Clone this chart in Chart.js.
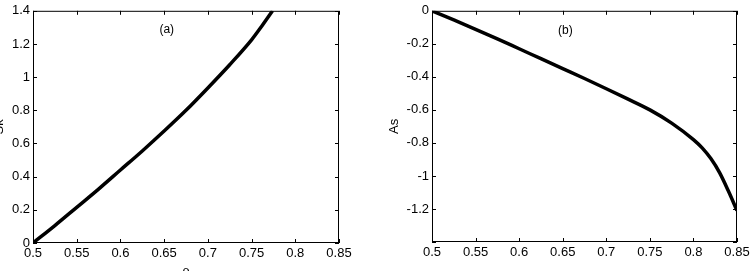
<!DOCTYPE html>
<html>
<head>
<meta charset="utf-8">
<script src="https://cdn.jsdelivr.net/npm/chart.js@4.4.1/dist/chart.umd.min.js"></script>
<style>
  html, body { margin: 0; padding: 0; background: #fff; overflow: hidden; }
  body { width: 753px; height: 271px; position: relative; }
  .box { position: absolute; top: 0; }
  #boxA { left: -8px; width: 390px; height: 290px; }
  #boxB { left: 376px; width: 377px; height: 290px; }
</style>
</head>
<body>
<div class="box" id="boxA"><canvas id="chartA"></canvas></div>
<div class="box" id="boxB"><canvas id="chartB"></canvas></div>
<script>
// panel (a): Sk vs rho
let rhoA = [0.5, 0.525, 0.55, 0.575, 0.6, 0.625, 0.65, 0.675, 0.7, 0.725, 0.75, 0.762, 0.774];
let skValues = [0, 0.105, 0.215, 0.325, 0.44, 0.555, 0.675, 0.80, 0.935, 1.075, 1.225, 1.31, 1.4];

// panel (b): As vs rho
let rhoB = [0.5, 0.525, 0.55, 0.575, 0.6, 0.625, 0.65, 0.675, 0.7, 0.725, 0.75, 0.775, 0.8, 0.81, 0.82, 0.83, 0.84, 0.85];
let asValues = [0, -0.055, -0.112, -0.17, -0.23, -0.29, -0.35, -0.41, -0.472, -0.535, -0.6, -0.68, -0.78, -0.83, -0.895, -0.98, -1.09, -1.21];

let xTicks = [0.5, 0.55, 0.6, 0.65, 0.7, 0.75, 0.8, 0.85];
let yTicksA = [0, 0.2, 0.4, 0.6, 0.8, 1, 1.2, 1.4];
let yTicksB = [0, -0.2, -0.4, -0.6, -0.8, -1, -1.2, -1.4];

const font = { family: "'Liberation Sans', Arial, sans-serif", size: 13 };

function fmt(v) {
    return parseFloat(Number(v).toFixed(2)).toString();
}

// MATLAB-style box with inward tick marks
const boxPlugin = {
    id: "boxTicks",
    afterDraw(chart) {
        let ctx = chart.ctx;
        let a = chart.chartArea;
        let xs = chart.scales.x, ys = chart.scales.y;
        ctx.save();
        ctx.strokeStyle = "#000";
        ctx.lineWidth = 1;
        ctx.strokeRect(a.left + 0.5, a.top + 0.5, a.right - a.left - 1, a.bottom - a.top - 1);
        ctx.beginPath();
        xs.ticks.forEach(t => {
            let px = Math.round(xs.getPixelForValue(t.value)) + 0.5;
            ctx.moveTo(px, a.bottom); ctx.lineTo(px, a.bottom - 4);
            ctx.moveTo(px, a.top); ctx.lineTo(px, a.top + 4);
        });
        ys.ticks.forEach(t => {
            let py = Math.round(ys.getPixelForValue(t.value)) + 0.5;
            ctx.moveTo(a.left, py); ctx.lineTo(a.left + 4, py);
            ctx.moveTo(a.right, py); ctx.lineTo(a.right - 4, py);
        });
        ctx.stroke();
        // panel tag
        let tag = chart.options.plugins.boxTicks;
        ctx.fillStyle = "#000";
        ctx.font = "12px 'Liberation Sans', Arial, sans-serif";
        ctx.textAlign = "center";
        ctx.textBaseline = "middle";
        ctx.fillText(tag.text, xs.getPixelForValue(tag.x), ys.getPixelForValue(tag.y));
        ctx.restore();
    }
};

function makeChart(id, xs, ys, yTicks, cfg) {
    let ctx = document.getElementById(id).getContext("2d");
    return new Chart(ctx, {
        type: "line",
        data: {
            datasets: [{
                data: xs.map((x, i) => ({ x: x, y: ys[i] })),
                borderColor: "#000",
                borderWidth: 3.5,
                pointRadius: 0,
                cubicInterpolationMode: "monotone",
                fill: false
            }]
        },
        options: {
            responsive: true,
            maintainAspectRatio: false,
            animation: false,
            layout: { padding: cfg.padding },
            scales: {
                x: {
                    type: "linear",
                    min: 0.5, max: 0.85,
                    afterBuildTicks: s => { s.ticks = xTicks.map(v => ({ value: v })); },
                    afterFit: s => { s.height = cfg.xHeight; },
                    grid: { display: false, drawTicks: false },
                    border: { display: false },
                    ticks: { color: "#000", font: font, padding: 3, maxRotation: 0, callback: v => fmt(v) },
                    title: { display: true, text: "ρ", color: "#000", font: font, padding: { top: 0, bottom: cfg.xTitlePad } }
                },
                y: {
                    type: "linear",
                    min: cfg.yMin, max: cfg.yMax,
                    afterBuildTicks: s => { s.ticks = yTicks.map(v => ({ value: v })); },
                    afterFit: s => { s.width = cfg.yWidth; },
                    grid: { display: false, drawTicks: false },
                    border: { display: false },
                    ticks: { color: "#000", font: font, padding: 3, callback: v => (cfg.hideLabel === v ? "" : fmt(v)) },
                    title: { display: true, text: cfg.yTitle, color: "#000", font: font, padding: { top: cfg.yTitlePad, bottom: 0 } }
                }
            },
            plugins: {
                legend: { display: false },
                tooltip: { enabled: false },
                boxTicks: cfg.tag
            }
        },
        plugins: [boxPlugin]
    });
}

makeChart("chartA", rhoA, skValues, yTicksA, {
    padding: { left: 0, right: 43, top: 7, bottom: 0 },
    xHeight: 47, yWidth: 41, xTitlePad: 11, yTitlePad: 0,
    yMin: 0, yMax: 1.4, yTitle: "Sk", hideLabel: null,
    tag: { text: "(a)", x: 0.653, y: 1.285 }
});

makeChart("chartB", rhoB, asValues, yTicksB, {
    padding: { left: 0, right: 16, top: 7, bottom: 0 },
    xHeight: 48, yWidth: 56, xTitlePad: 8, yTitlePad: 11,
    yMin: -1.4, yMax: 0, yTitle: "As", hideLabel: -1.4,
    tag: { text: "(b)", x: 0.653, y: -0.12 }
});
</script>
</body>
</html>
